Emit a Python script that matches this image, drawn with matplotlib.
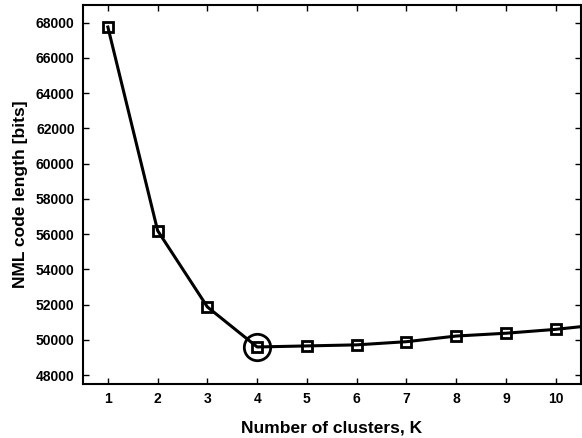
import matplotlib.pyplot as plt

plt.rcParams['font.family'] = ['Liberation Sans', 'DejaVu Sans']
plt.rcParams['font.weight'] = 'bold'

clusters = [1, 2, 3, 4, 5, 6, 7, 8, 9, 10, 11]
code_length = [67750, 56200, 51870, 49600, 49660, 49720, 49900, 50220, 50380, 50600, 50900]
best_k = 4
x_ticks = [1, 2, 3, 4, 5, 6, 7, 8, 9, 10]
y_ticks = [48000, 50000, 52000, 54000, 56000, 58000, 60000, 62000, 64000, 66000, 68000]

fig = plt.figure(figsize=(5.82, 4.38), dpi=100)
ax = fig.add_axes([0.1426, 0.1233, 0.855, 0.8653])

ax.plot(clusters, code_length, color='black', lw=2.2, marker='s', ms=7.5,
        mfc='none', mec='black', mew=2, clip_on=True)
ax.plot([best_k], [code_length[clusters.index(best_k)]], marker='o', ms=19,
        mfc='none', mec='black', mew=2, ls='none')

ax.set_xlim(0.5, 10.5)
ax.set_ylim(47500, 69000)
ax.set_xticks(x_ticks)
ax.set_yticks(y_ticks)
ax.tick_params(direction='in', top=True, right=True, length=4, width=1,
               labelsize=10, pad=6)
for lbl in ax.get_xticklabels() + ax.get_yticklabels():
    lbl.set_fontweight('bold')
for s in ax.spines.values():
    s.set_linewidth(1.5)

ax.set_xlabel('Number of clusters, K', fontsize=12.5, fontweight='bold', labelpad=10)
ax.set_ylabel('NML code length [bits]', fontsize=12.5, fontweight='bold', labelpad=6)

fig.savefig('out.png', dpi=100)
